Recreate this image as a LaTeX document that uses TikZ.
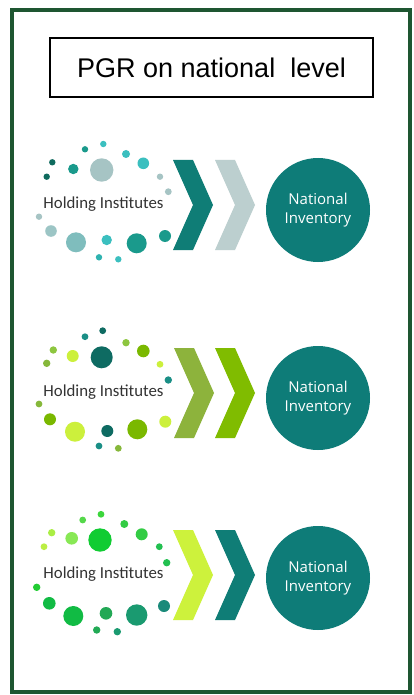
\documentclass[tikz,border=0pt]{standalone}
\usepackage{fontspec}
\setmainfont{Liberation Sans}
\newfontfamily\calfont{Carlito}
\newfontfamily\invfont{Open Sans}
\definecolor{frame}{HTML}{1E5631}
\definecolor{circ}{HTML}{0E7C78}
\definecolor{chteal}{HTML}{0F7D76}
\definecolor{chgray}{HTML}{BCCFCF}
\definecolor{cholive}{HTML}{8DB33C}
\definecolor{chgreen}{HTML}{80BC00}
\definecolor{chlime}{HTML}{CDF23C}
\definecolor{txt}{HTML}{333333}
\tikzset{
  titlebox/.style={draw=black,line width=1.8pt,minimum width=323pt,minimum height=59pt,inner sep=0pt,font=\fontsize{27}{30}\selectfont},
  holdtext/.style={text=txt,font=\calfont\fontsize{16.8}{18}\selectfont,inner sep=0pt},
  invcircle/.style={circle,fill=circ,minimum size=104pt,inner sep=0pt,text=white,align=center,font=\invfont\fontsize{15}{18.5}\selectfont},
}
\newcommand{\chev}[3]{% x0, yc, colour
  \fill[#3] (#1,#2-45) -- ++(20,0) -- ++(20,45) -- ++(-20,45) -- ++(-20,0) -- ++(20,-45) -- cycle;}
\begin{document}
\begin{tikzpicture}[x=1pt,y=-1pt]
\useasboundingbox (0,0) rectangle (414,695);
\fill[white] (0,0) rectangle (414,695);
\draw[frame,line width=4pt] (12,10) rectangle (410,692);
\node[titlebox] (title) at (211.5,67.5) {PGR on national\ \ level};

% ---- row 1 ----
\foreach \x/\y/\r/\c in {52.3/162.3/3.2/0F6B5E, 46.7/176.7/3.2/0F6B5E, 73.3/169/5.2/1A9A8C, 85/149.3/3.2/1A9A8C, 103.3/144/3.2/3BBFBF, 101.7/170/11.7/A6C4C4, 126/154/4/3BBFBF, 143.3/163.3/5.8/3BBFBF, 160/176.7/3.2/A6C4C4, 168.3/191.7/3.4/A6C4C4, 39/216.7/3.2/A6C4C4, 51/231/5.8/9CC5C5, 76/242.3/10/7FBDBD, 106.7/240/5.2/3BBFBF, 136.7/243.3/10/1A9A8C, 165/236/6/1A9A8C, 99/257.3/3.2/2FB3B0, 118.3/259.3/3.2/3BBFBF}
  {\definecolor{dc}{HTML}{\c}\fill[dc] (\x,\y) circle (\r);}
\node[holdtext] (hold1) at (103.5,204) {Holding Institutes};
\chev{173}{205}{chteal}
\chev{215}{205}{chgray}
\node[invcircle] (inv1) at (318,210) {National\\Inventory};

% ---- row 2 ----
\foreach \x/\y/\r/\c in {102.7/330.7/3.4/0E6B62, 85/336.7/3.4/1A8F86, 53.3/350/3.7/8DC63F, 46.7/363.3/3.7/86B83A, 72.7/356/6/CCF03C, 101.7/357.3/11/0E6B62, 126/342.7/3.7/8DC63F, 143.3/351/6.3/7AB800, 160/364.3/3.4/CCF03C, 168.3/380/3.7/1A8F86, 39/404/3.4/86B83A, 50/419.3/6/7AB800, 75/431.7/10/CCF03C, 107.3/431/6/0E6B62, 137.3/429.3/10/7AB800, 165.3/421.7/6/CCF03C, 99/446/3.4/1A8F86, 118.3/448.3/3.4/86B83A}
  {\definecolor{dc}{HTML}{\c}\fill[dc] (\x,\y) circle (\r);}
\node[holdtext] (hold2) at (103.5,392.5) {Holding Institutes};
\chev{174}{393}{cholive}
\chev{215}{393}{chgreen}
\node[invcircle] (inv2) at (318,398) {National\\Inventory};

% ---- row 3 ----
\foreach \x/\y/\r/\c in {101/514.3/3.4/3CD63C, 82.7/520/3.4/55D84A, 51.7/532.7/3.7/AAEE44, 44/546.7/3.4/BBEE44, 71.7/538.3/6.3/88E855, 100/540/11.7/11CC33, 124.3/524/4/33CC44, 141.7/534.3/6/33CC44, 159.3/546.7/3.4/22C050, 166.7/562.7/3.7/22C050, 36.7/587.3/3.7/22CC33, 49.3/603.3/6.3/11BB44, 73.3/616/10/11BB44, 106/613.3/6.3/22A855, 136.7/615/10.7/1A9A70, 164/606/6/1A8A7A, 96.7/630/3.7/22AA55, 117.3/631.7/3.7/1A9A70}
  {\definecolor{dc}{HTML}{\c}\fill[dc] (\x,\y) circle (\r);}
\node[holdtext] (hold3) at (103.5,574) {Holding Institutes};
\chev{173}{575}{chlime}
\chev{215}{575}{chteal}
\node[invcircle] (inv3) at (318,578) {National\\Inventory};
\end{tikzpicture}
\end{document}
